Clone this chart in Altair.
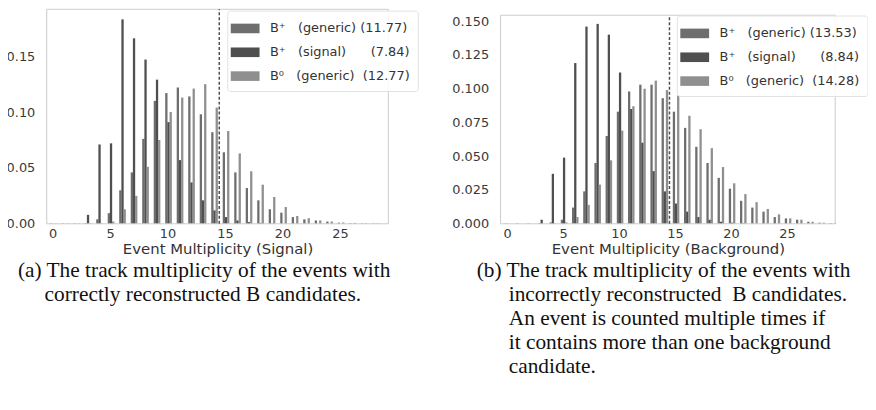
import altair as alt
import pandas as pd

# ---------------- data ----------------
mult = list(range(0, 30))

NB = "\u00a0"
series_a = ["B\u207a" + NB * 3 + "(generic)" + NB + "(11.77)",
            "B\u207a" + NB * 3 + "(signal)" + NB * 6 + "(7.84)",
            "B\u2070" + NB * 3 + "(generic)" + NB * 2 + "(12.77)"]
series_b = ["B\u207a" + NB * 3 + "(generic)" + NB + "(13.53)",
            "B\u207a" + NB * 3 + "(signal)" + NB * 6 + "(8.84)",
            "B\u2070" + NB * 3 + "(generic)" + NB * 2 + "(14.28)"]

gen_a = [0.0004, 0.0004, 0.0004, 0.0005, 0.004, 0.0095, 0.030, 0.046, 0.076, 0.110,
         0.117, 0.122, 0.114, 0.098, 0.082, 0.064, 0.046, 0.032, 0.021, 0.013,
         0.010, 0.006, 0.004, 0.003, 0.002, 0.001, 0.0006, 0.0004, 0.0003, 0.0]
sig_a = [0.0, 0.0, 0.0, 0.008, 0.071, 0.072, 0.183, 0.166, 0.147, 0.129,
         0.091, 0.057, 0.037, 0.021, 0.012, 0.006, 0.003, 0.0015, 0.0008, 0.0003,
         0.0, 0.0, 0.0, 0.0, 0.0, 0.0, 0.0, 0.0, 0.0, 0.0]
b0_a = [0.0003, 0.0003, 0.0003, 0.0003, 0.0003, 0.002, 0.013, 0.025, 0.051, 0.075,
        0.100, 0.113, 0.121, 0.125, 0.104, 0.083, 0.063, 0.047, 0.035, 0.024,
        0.015, 0.007, 0.005, 0.003, 0.002, 0.0012, 0.0008, 0.0005, 0.0004, 0.0]

gen_b = [0.0003, 0.0003, 0.0003, 0.0005, 0.001, 0.003, 0.012, 0.024, 0.045, 0.065,
         0.083, 0.098, 0.103, 0.103, 0.093, 0.083, 0.071, 0.057, 0.045, 0.034,
         0.026, 0.017, 0.012, 0.009, 0.005, 0.004, 0.003, 0.0015, 0.0008, 0.0004]
sig_b = [0.0, 0.0, 0.0, 0.003, 0.037, 0.049, 0.119, 0.146, 0.148, 0.140,
         0.112, 0.085, 0.060, 0.039, 0.024, 0.015, 0.009, 0.005, 0.003, 0.0015,
         0.0008, 0.0004, 0.0, 0.0, 0.0, 0.0, 0.0, 0.0, 0.0, 0.0]
b0_b = [0.0, 0.0, 0.0, 0.0, 0.0003, 0.001, 0.005, 0.014, 0.029, 0.047,
        0.069, 0.087, 0.100, 0.106, 0.099, 0.095, 0.080, 0.070, 0.056, 0.042,
        0.030, 0.022, 0.016, 0.011, 0.007, 0.004, 0.003, 0.0015, 0.0008, 0.0004]

cut_value = 14.5
bar_offsets = [-0.1, 0.09, 0.28]

x_ticks = [0, 5, 10, 15, 20, 25]
y_ticks_a = [0.0, 0.05, 0.10, 0.15]
y_ticks_b = [0.0, 0.025, 0.05, 0.075, 0.10, 0.125, 0.150]

# axis ranges (frame) of the two panels
xdom_a, ytop_a = [-0.5, 29.2], 0.192
xdom_b, ytop_b = [-0.58, 29.3], 0.1544

title_a = "Event Multiplicity (Signal)"
title_b = "Event Multiplicity (Background)"

caption_a = ["(a) The track multiplicity of the events with",
             "\u200b" + NB * 5 + "correctly reconstructed B candidates."]
LEAD = "\u200b" + NB * 6
caption_b = ["(b) The track multiplicity of the events with",
             LEAD + "incorrectly reconstructed " + NB + "B candidates.",
             LEAD + "An event is counted multiple times if",
             LEAD + "it contains more than one background",
             LEAD + "candidate."]

bar_colors = ["#6e6e6e", "#4f4f4f", "#8f8f8f"]
frame_color = "#cccccc"

LEG_SYMBOL = "M-1.5,-0.5L1.5,-0.5L1.5,0.5L-1.5,0.5Z"


def make_df(series, cols):
    rows = []
    for s, vals, off in zip(series, cols, bar_offsets):
        for n, v in zip(mult, vals):
            rows.append({"n": n, "series": s, "value": v, "off": off})
    return pd.DataFrame(rows)


def panel(df, series, xdom, ytop, yscale_top, yticks, yfmt, width, height, xtitle,
          legx, legy, caption, cap_dx):
    xs = alt.Scale(domain=xdom, nice=False, zero=False)
    ys = alt.Scale(domain=[0, yscale_top], nice=False, zero=True)
    xaxis = alt.Axis(values=x_ticks, format="d", ticks=False, domain=False, grid=False,
                     labelFont="DejaVu Sans", labelFontSize=13, labelColor="#3a3a3a",
                     labelPadding=4, labelOverlap=False, title=xtitle,
                     titleFont="DejaVu Sans", titleFontSize=15, titleFontWeight="normal",
                     titleColor="#333333", titlePadding=1)
    yaxis = alt.Axis(values=yticks, format=yfmt, ticks=False, domain=False, grid=False,
                     labelFont="DejaVu Sans", labelFontSize=13, labelColor="#3a3a3a",
                     labelPadding=7, labelOverlap=False, title=None)
    bars = alt.Chart(df).mark_bar(width=2.3).transform_calculate(
        pos="datum.n + datum.off"
    ).encode(
        x=alt.X("pos:Q", scale=xs, axis=xaxis, title=xtitle),
        y=alt.Y("value:Q", scale=ys, axis=yaxis, title=None),
        color=alt.Color("series:N",
                        scale=alt.Scale(domain=series, range=bar_colors),
                        legend=alt.Legend(orient="none", legendX=legx, legendY=legy, title=None,
                                          symbolType=LEG_SYMBOL, symbolSize=374,
                                          symbolStrokeWidth=0, symbolOpacity=1,
                                          labelFont="DejaVu Sans", labelFontSize=13,
                                          labelColor="#333333", labelOffset=15, padding=8,
                                          rowPadding=7, fillColor="rgba(255,255,255,0.85)",
                                          strokeColor="#e2e2e2", cornerRadius=3,
                                          labelLimit=400)),
        order=alt.Order("off:Q"),
    )
    # frame of the axes box, through the scales
    frame_df = pd.DataFrame({
        "x": [xdom[0], xdom[0], xdom[0], xdom[1]],
        "x2": [xdom[1], xdom[1], xdom[0], xdom[1]],
        "y": [0, ytop, 0, 0],
        "y2": [0, ytop, ytop, ytop],
    })
    frame = alt.Chart(frame_df).mark_rule(color=frame_color, strokeWidth=1).encode(
        x=alt.X("x:Q", scale=xs, axis=xaxis, title=xtitle), x2="x2:Q",
        y=alt.Y("y:Q", scale=ys, axis=yaxis, title=None), y2="y2:Q"
    )
    cut_df = pd.DataFrame({"cut": [cut_value], "y": [0], "y2": [ytop]})
    rule = alt.Chart(cut_df).mark_rule(
        color="#505050", strokeDash=[3, 2], strokeWidth=1.5
    ).encode(x=alt.X("cut:Q", scale=xs, axis=xaxis, title=xtitle),
             y=alt.Y("y:Q", scale=ys, axis=yaxis, title=None), y2="y2:Q")
    return alt.layer(bars, frame, rule).properties(
        width=width, height=height,
        title=alt.Title(text=caption, orient="bottom", anchor="start", frame="group",
                        dx=cap_dx, offset=4, font="Liberation Serif", fontSize=21.5,
                        fontWeight="normal", lineHeight=24, color="#111111"),
    )


df_a = make_df(series_a, [gen_a, sig_a, b0_a])
df_b = make_df(series_b, [gen_b, sig_b, b0_b])

pa = panel(df_a, series_a, xdom_a, ytop_a, ytop_a, y_ticks_a, ".2f", 354, 216, title_a,
           186.8, 1.3, caption_a, -24)
# panel b: its frame is 6 px lower than panel a's top, same bottom
pb = panel(df_b, series_b, xdom_b, ytop_b, ytop_b * 216 / 210, y_ticks_b, ".3f", 347, 216,
           title_b, 182.5, 6.3, caption_b, -19)

chart = alt.hconcat(pa, pb, spacing=32).resolve_scale(
    x="independent", y="independent", color="independent"
).resolve_legend(color="independent").properties(
    padding={"left": -2, "top": -1, "right": 0, "bottom": 0},
    background="white",
).configure_view(stroke=None)

chart.save("out.html", embed_options={"renderer": "svg", "actions": False})
